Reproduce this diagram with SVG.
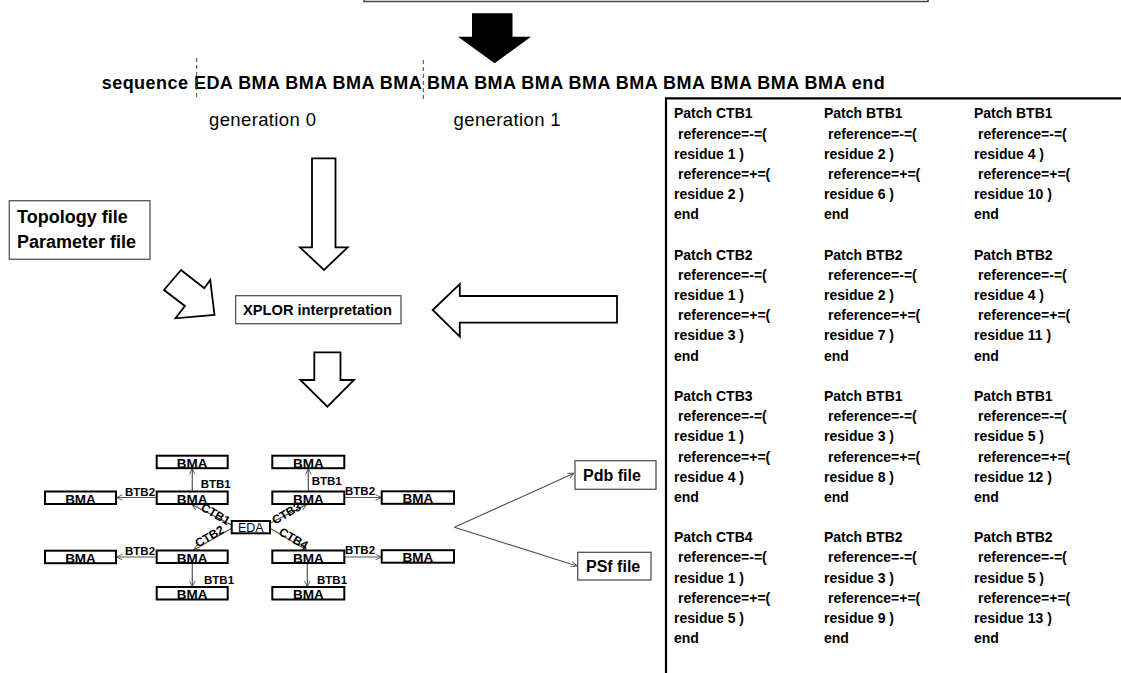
<svg xmlns="http://www.w3.org/2000/svg" width="1121" height="673" viewBox="0 0 1121 673">
<defs>
<style>
text{font-family:"Liberation Sans",Arial,sans-serif;fill:#000}
.seq{font-size:18px;font-weight:bold}
.gen{font-size:18.5px}
.side{font-size:18px;font-weight:bold}
.xp{font-size:14px;font-weight:bold}
.bma{font-size:13.5px;font-weight:bold;text-anchor:middle}
.lbl{font-size:11.5px;font-weight:bold}
.ctb{font-size:12px;font-weight:bold;text-anchor:middle}
.file{font-size:16px;font-weight:bold}
.pt{font-size:14px;font-weight:bold}
.box{fill:#fff;stroke:#000;stroke-width:2}
.gbox{fill:#fff;stroke:#555;stroke-width:1.3}
.oarrow{fill:#fff;stroke:#000;stroke-width:1.8;stroke-linejoin:miter}
.con{stroke:#555;stroke-width:1.2;fill:none}
.dash{stroke:#444;stroke-width:1;stroke-dasharray:4 3}
</style>
<marker id="ah" viewBox="0 0 10 10" refX="9.5" refY="5" markerWidth="7" markerHeight="7" markerUnits="userSpaceOnUse" orient="auto">
<path d="M1,1 L9.5,5 L1,9" fill="none" stroke="#555" stroke-width="1.3"/>
</marker>
</defs>
<rect width="1121" height="673" fill="#fff"/>

<g id="top-box"><rect x="364" y="-20" width="564" height="21.5" fill="#fff" stroke="#444" stroke-width="1.5"/></g>
<g id="black-arrow"><polygon points="472,13.3 512.5,13.3 512.5,36.7 531,36.7 494.6,63.3 458,36.7 472,36.7" fill="#000"/></g>

<g id="sequence">
<text class="seq" x="101.7" y="89" textLength="783" lengthAdjust="spacing">sequence EDA BMA BMA BMA BMA BMA BMA BMA BMA BMA BMA BMA BMA BMA end</text>
<line class="dash" x1="196.7" y1="58" x2="196.7" y2="100"/>
<line class="dash" x1="423.3" y1="60" x2="423.3" y2="100"/>
<text class="gen" x="209" y="126" textLength="107" lengthAdjust="spacing">generation 0</text>
<text class="gen" x="453.6" y="126" textLength="107" lengthAdjust="spacing">generation 1</text>
</g>

<g id="topology">
<rect class="gbox" x="9.3" y="200.7" width="140.7" height="58.6"/>
<text class="side" x="17" y="223.3">Topology file</text>
<text class="side" x="17" y="248">Parameter file</text>
</g>

<g id="xplor">
<rect class="gbox" x="235.6" y="295.7" width="165.4" height="28"/>
<text class="xp" x="243" y="315" textLength="149" lengthAdjust="spacingAndGlyphs">XPLOR interpretation</text>
</g>

<g id="outline-arrows">
<polygon class="oarrow" points="312,158.3 335.5,158.3 335.5,247.3 347.7,247.3 324,270 300,247.3 312,247.3"/>
<polygon class="oarrow" points="181,270 164,290 184.9,306 175.5,318.3 214.5,315 210.2,280 204.3,288.3"/>
<polygon class="oarrow" points="432.7,310 459.8,284 459.8,296 617,296 617,322.7 459.8,322.7 459.8,336.7"/>
<polygon class="oarrow" points="314.3,352.3 340.5,352.3 340.5,380 354,380 327.4,406.7 300.3,380 314.3,380"/>
</g>

<g id="connectors">
<line class="con" x1="192.3" y1="491.5" x2="192.3" y2="468.5" marker-end="url(#ah)"/>
<line class="con" x1="308.3" y1="491.5" x2="308.3" y2="468.5" marker-end="url(#ah)"/>
<line class="con" x1="156.7" y1="497.5" x2="116.5" y2="497.5" marker-end="url(#ah)"/>
<line class="con" x1="344.3" y1="497.5" x2="381.5" y2="497.5" marker-end="url(#ah)"/>
<line class="con" x1="156.7" y1="557" x2="116.5" y2="557" marker-end="url(#ah)"/>
<line class="con" x1="344.3" y1="557" x2="381.5" y2="557" marker-end="url(#ah)"/>
<line class="con" x1="192.3" y1="563" x2="192.3" y2="586.7" marker-end="url(#ah)"/>
<line class="con" x1="307.3" y1="563" x2="307.3" y2="586.7" marker-end="url(#ah)"/>
<line class="con" x1="231.7" y1="525" x2="191.7" y2="504.5" marker-end="url(#ah)"/>
<line class="con" x1="231.7" y1="528.3" x2="193.3" y2="550.3" marker-end="url(#ah)"/>
<line class="con" x1="270" y1="523.3" x2="306.7" y2="504.5" marker-end="url(#ah)"/>
<line class="con" x1="270" y1="528.3" x2="306.7" y2="550" marker-end="url(#ah)"/>
<line class="con" x1="454.3" y1="527.3" x2="574" y2="473.3" marker-end="url(#ah)"/>
<line class="con" x1="454.3" y1="527.3" x2="577" y2="566" marker-end="url(#ah)"/>
<text class="lbl" x="200.7" y="488">BTB1</text>
<text class="lbl" x="311.7" y="485">BTB1</text>
<text class="lbl" x="125" y="495.5">BTB2</text>
<text class="lbl" x="345" y="494.5">BTB2</text>
<text class="lbl" x="125" y="555">BTB2</text>
<text class="lbl" x="345" y="554">BTB2</text>
<text class="lbl" x="204" y="584">BTB1</text>
<text class="lbl" x="317" y="584">BTB1</text>
<text class="ctb" transform="translate(213.5,517.5) rotate(30)">CTB1</text>
<text class="ctb" transform="translate(211.5,540) rotate(-30)">CTB2</text>
<text class="ctb" transform="translate(288.5,517) rotate(-30)">CTB3</text>
<text class="ctb" transform="translate(291.5,542) rotate(30)">CTB4</text>
</g>

<g id="eda"><rect class="box" x="231.7" y="521" width="38.3" height="12.3" stroke-width="1.8"/><text x="250.8" y="532" font-size="12.5" text-anchor="middle">EDA</text></g>
<g id="bma-top-left"><rect class="box" x="156.7" y="455.7" width="71" height="12.5"/><text class="bma" x="192.2" y="467.8">BMA</text></g>
<g id="bma-top-right"><rect class="box" x="272.3" y="455.7" width="72" height="12.5"/><text class="bma" x="308.3" y="467.8">BMA</text></g>
<g id="bma-r1-far-left"><rect class="box" x="45" y="491.5" width="71" height="12.5"/><text class="bma" x="80.5" y="503.6">BMA</text></g>
<g id="bma-r1-left"><rect class="box" x="156.7" y="491.5" width="71" height="12.5"/><text class="bma" x="192.2" y="503.6">BMA</text></g>
<g id="bma-r1-right"><rect class="box" x="272.3" y="491.5" width="72" height="12.5"/><text class="bma" x="308.3" y="503.6">BMA</text></g>
<g id="bma-r1-far-right"><rect class="box" x="381.7" y="491.3" width="72.3" height="12.5"/><text class="bma" x="417.8" y="503.4">BMA</text></g>
<g id="bma-r2-far-left"><rect class="box" x="45" y="550.7" width="71" height="12.5"/><text class="bma" x="80.5" y="562.8">BMA</text></g>
<g id="bma-r2-left"><rect class="box" x="156.7" y="550.5" width="71" height="12.5"/><text class="bma" x="192.2" y="562.6">BMA</text></g>
<g id="bma-r2-right"><rect class="box" x="272.3" y="550.5" width="72" height="12.5"/><text class="bma" x="308.3" y="562.6">BMA</text></g>
<g id="bma-r2-far-right"><rect class="box" x="381.7" y="550.2" width="72.3" height="12.5"/><text class="bma" x="417.8" y="562.3">BMA</text></g>
<g id="bma-bottom-left"><rect class="box" x="156.7" y="587" width="71" height="12.5"/><text class="bma" x="192.2" y="599.1">BMA</text></g>
<g id="bma-bottom-right"><rect class="box" x="272.3" y="587" width="72" height="12.5"/><text class="bma" x="308.3" y="599.1">BMA</text></g>

<g id="pdb"><rect class="gbox" x="575" y="460.7" width="81" height="28.6"/><text class="file" x="583" y="481">Pdb file</text></g>
<g id="psf"><rect class="gbox" x="577.7" y="552.3" width="73.3" height="27.7"/><text class="file" x="586" y="572">PSf file</text></g>

<g id="patch-panel">
<path d="M666,674 L666,98.3 L1122,98.3" fill="none" stroke="#000" stroke-width="2.2"/>
<text class="pt" x="674" y="118.3">Patch CTB1</text>
<text class="pt" x="678" y="138.5">reference=-=(</text>
<text class="pt" x="674" y="158.7">residue 1 )</text>
<text class="pt" x="678" y="178.9">reference=+=(</text>
<text class="pt" x="674" y="199.1">residue 2 )</text>
<text class="pt" x="674" y="219.3">end</text>
<text class="pt" x="824" y="118.3">Patch BTB1</text>
<text class="pt" x="828" y="138.5">reference=-=(</text>
<text class="pt" x="824" y="158.7">residue 2 )</text>
<text class="pt" x="828" y="178.9">reference=+=(</text>
<text class="pt" x="824" y="199.1">residue 6 )</text>
<text class="pt" x="824" y="219.3">end</text>
<text class="pt" x="974" y="118.3">Patch BTB1</text>
<text class="pt" x="978" y="138.5">reference=-=(</text>
<text class="pt" x="974" y="158.7">residue 4 )</text>
<text class="pt" x="978" y="178.9">reference=+=(</text>
<text class="pt" x="974" y="199.1">residue 10 )</text>
<text class="pt" x="974" y="219.3">end</text>

<text class="pt" x="674" y="259.6">Patch CTB2</text>
<text class="pt" x="678" y="279.8">reference=-=(</text>
<text class="pt" x="674" y="300">residue 1 )</text>
<text class="pt" x="678" y="320.2">reference=+=(</text>
<text class="pt" x="674" y="340.4">residue 3 )</text>
<text class="pt" x="674" y="360.6">end</text>
<text class="pt" x="824" y="259.6">Patch BTB2</text>
<text class="pt" x="828" y="279.8">reference=-=(</text>
<text class="pt" x="824" y="300">residue 2 )</text>
<text class="pt" x="828" y="320.2">reference=+=(</text>
<text class="pt" x="824" y="340.4">residue 7 )</text>
<text class="pt" x="824" y="360.6">end</text>
<text class="pt" x="974" y="259.6">Patch BTB2</text>
<text class="pt" x="978" y="279.8">reference=-=(</text>
<text class="pt" x="974" y="300">residue 4 )</text>
<text class="pt" x="978" y="320.2">reference=+=(</text>
<text class="pt" x="974" y="340.4">residue 11 )</text>
<text class="pt" x="974" y="360.6">end</text>

<text class="pt" x="674" y="400.9">Patch CTB3</text>
<text class="pt" x="678" y="421.1">reference=-=(</text>
<text class="pt" x="674" y="441.3">residue 1 )</text>
<text class="pt" x="678" y="461.5">reference=+=(</text>
<text class="pt" x="674" y="481.7">residue 4 )</text>
<text class="pt" x="674" y="501.9">end</text>
<text class="pt" x="824" y="400.9">Patch BTB1</text>
<text class="pt" x="828" y="421.1">reference=-=(</text>
<text class="pt" x="824" y="441.3">residue 3 )</text>
<text class="pt" x="828" y="461.5">reference=+=(</text>
<text class="pt" x="824" y="481.7">residue 8 )</text>
<text class="pt" x="824" y="501.9">end</text>
<text class="pt" x="974" y="400.9">Patch BTB1</text>
<text class="pt" x="978" y="421.1">reference=-=(</text>
<text class="pt" x="974" y="441.3">residue 5 )</text>
<text class="pt" x="978" y="461.5">reference=+=(</text>
<text class="pt" x="974" y="481.7">residue 12 )</text>
<text class="pt" x="974" y="501.9">end</text>

<text class="pt" x="674" y="542.2">Patch CTB4</text>
<text class="pt" x="678" y="562.4">reference=-=(</text>
<text class="pt" x="674" y="582.6">residue 1 )</text>
<text class="pt" x="678" y="602.8">reference=+=(</text>
<text class="pt" x="674" y="623">residue 5 )</text>
<text class="pt" x="674" y="643.2">end</text>
<text class="pt" x="824" y="542.2">Patch BTB2</text>
<text class="pt" x="828" y="562.4">reference=-=(</text>
<text class="pt" x="824" y="582.6">residue 3 )</text>
<text class="pt" x="828" y="602.8">reference=+=(</text>
<text class="pt" x="824" y="623">residue 9 )</text>
<text class="pt" x="824" y="643.2">end</text>
<text class="pt" x="974" y="542.2">Patch BTB2</text>
<text class="pt" x="978" y="562.4">reference=-=(</text>
<text class="pt" x="974" y="582.6">residue 5 )</text>
<text class="pt" x="978" y="602.8">reference=+=(</text>
<text class="pt" x="974" y="623">residue 13 )</text>
<text class="pt" x="974" y="643.2">end</text>
</g>
</svg>
